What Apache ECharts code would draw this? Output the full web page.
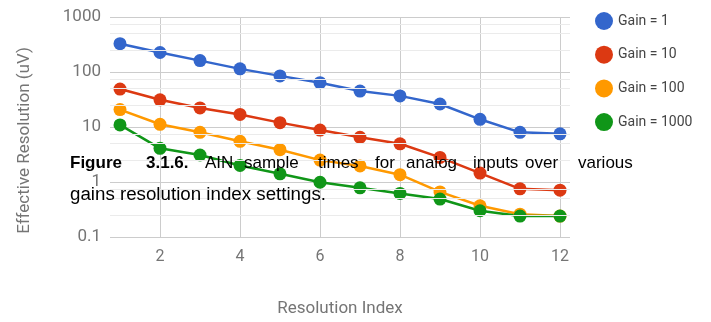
<!DOCTYPE html>
<html>
<head>
<meta charset="utf-8">
<script src="https://cdn.jsdelivr.net/npm/echarts@6/dist/echarts.min.js"></script>
<style>
html,body{margin:0;padding:0;background:#fff;}
#chart{width:711px;height:322px;}
</style>
</head>
<body>
<div id="chart"></div>
<script>
const resolutionIndex = [1,2,3,4,5,6,7,8,9,10,11,12];
const gain1    = [327, 226, 161, 114, 85, 64, 45, 36.8, 26.2, 13.8, 8.0, 7.5];
const gain10   = [49, 31.2, 22.2, 16.9, 12.0, 8.8, 6.5, 4.95, 2.8, 1.45, 0.75, 0.71];
const gain100  = [20.7, 11.2, 8.0, 5.5, 3.87, 2.5, 1.96, 1.36, 0.66, 0.37, 0.26, 0.24];
const gain1000 = [10.9, 4.1, 3.1, 2.0, 1.41, 0.99, 0.785, 0.62, 0.49, 0.30, 0.24, 0.24];
const seriesNames = ['Gain = 1','Gain = 10','Gain = 100','Gain = 1000'];
const seriesColors = ['#3366cc','#dc3912','#ff9900','#109618'];
const xTickLabels = [2,4,6,8,10,12];
const yMinorGrid = [0.25,0.5,0.75,2.5,5,7.5,25,50,75,250,500,750];
const captionLine1 = [
  {t:'Figure', bold:true, x:70},
  {t:'3.1.6.', bold:true, x:146},
  {t:'AIN', x:205},
  {t:'sample', x:244},
  {t:'times', x:318},
  {t:'for', x:375},
  {t:'analog', x:406},
  {t:'inputs', x:473},
  {t:'over', x:525},
  {t:'various', x:578}
];
const captionLine2 = 'gains resolution index settings.';

const allData = [gain1, gain10, gain100, gain1000];
const series = allData.map((vals, i) => ({
  name: seriesNames[i],
  type: 'line',
  data: resolutionIndex.map((x, j) => [x, vals[j]]),
  symbol: 'circle',
  symbolSize: 13,
  color: seriesColors[i],
  lineStyle: {width: 2.5, color: seriesColors[i]},
  itemStyle: {color: seriesColors[i]},
  emphasis: {disabled: true},
  z: 3
}));
series.unshift({
  name: 'minor',
  type: 'line',
  data: [],
  silent: true,
  z: 1,
  markLine: {
    silent: true,
    symbol: ['none','none'],
    label: {show: false},
    animation: false,
    lineStyle: {color: '#ebebeb', width: 1, type: 'solid'},
    emphasis: {disabled: true},
    data: yMinorGrid.map(v => ({yAxis: v}))
  }
});

const graphics = captionLine1.map(w => ({
  type: 'text',
  x: w.x, y: 163.5, z: 100,
  style: {
    text: w.t, fill: '#000',
    font: (w.bold ? 'bold ' : '') + '17px "Liberation Sans", Arial, sans-serif',
    verticalAlign: 'middle', align: 'left'
  }
}));
graphics.push({
  type: 'text', x: 70, y: 195.5, z: 100, scaleX: 1.04,
  style: {
    text: captionLine2, fill: '#000',
    font: '18px "Liberation Sans", Arial, sans-serif',
    verticalAlign: 'middle', align: 'left'
  }
});

const chart = echarts.init(document.getElementById('chart'), null, {renderer: 'canvas'});
chart.setOption({
  animation: false,
  backgroundColor: '#fff',
  textStyle: {fontFamily: 'Roboto, sans-serif'},
  grid: {left: 110, right: 141, top: 17, bottom: 80, containLabel: false},
  legend: {
    data: seriesNames,
    orient: 'vertical',
    left: 590, top: 7,
    icon: 'circle',
    itemWidth: 18, itemHeight: 18,
    itemGap: 15.7,
    textStyle: {fontSize: 14, color: '#444', fontFamily: 'Roboto, sans-serif'},
    selectedMode: false
  },
  xAxis: {
    type: 'value',
    min: 0.75, max: 12.25,
    name: 'Resolution Index',
    nameLocation: 'middle',
    nameGap: 63,
    nameTextStyle: {fontSize: 17, color: '#757575'},
    axisLine: {show: false},
    axisTick: {show: false, customValues: xTickLabels},
    axisLabel: {customValues: xTickLabels, fontSize: 16, color: '#757575', margin: 12},
    splitLine: {show: true, lineStyle: {color: '#cccccc', width: 1}}
  },
  yAxis: {
    type: 'log',
    logBase: 10,
    min: 0.1, max: 1000,
    name: 'Effective Resolution (uV)',
    nameLocation: 'middle',
    nameGap: 77,
    nameTextStyle: {fontSize: 17, color: '#757575', padding: [0, 27, 0, 0]},
    axisLine: {show: false},
    axisTick: {show: false},
    axisLabel: {fontSize: 17, color: '#757575', margin: 9, formatter: v => String(v)},
    splitLine: {show: true, lineStyle: {color: '#cccccc', width: 1}}
  },
  series: series,
  graphic: graphics
});
</script>
</body>
</html>
